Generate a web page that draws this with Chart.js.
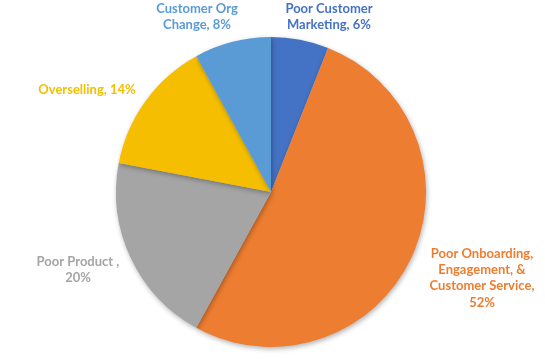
<!DOCTYPE html>
<html>
<head>
<meta charset="utf-8">
<script src="https://cdn.jsdelivr.net/npm/chart.js@4/dist/chart.umd.min.js"></script>
<style>
  html, body { margin: 0; padding: 0; background: #fff; }
  #wrap { width: 545px; height: 364px; }
</style>
</head>
<body>
<div id="wrap"><canvas id="piechart"></canvas></div>
<script>
const categories = [
  "Poor Customer Marketing",
  "Poor Onboarding, Engagement, & Customer Service",
  "Poor Product",
  "Overselling",
  "Customer Org Change",
];
const percentages = [6, 52, 20, 14, 8];
const labelLines = [
  ["Poor Customer", "Marketing, 6%"],
  ["Poor Onboarding,", "Engagement, &", "Customer Service,", "52%"],
  ["Poor Product ,", "20%"],
  ["Overselling, 14%"],
  ["Customer Org", "Change, 8%"],
];
const sliceColors = ["#4472C4", "#ED7D31", "#A5A5A5", "#F5BE00", "#5B9BD5"];

// where each label block sits, relative to pie centre
const labelOffsets = [[58, -175], [211, 86], [-193, 78], [-184, -102], [-74, -175]];

const shadowPlugin = {
  id: "shadow",
  beforeDatasetsDraw(chart) {
    const c = chart.ctx;
    c.save();
    c.shadowColor = "rgba(0,0,0,0.3)";
    c.shadowBlur = 5;
    c.shadowOffsetX = 1;
    c.shadowOffsetY = 2;
  },
  afterDatasetsDraw(chart) {
    chart.ctx.restore();
  },
};

const labelPlugin = {
  id: "outLabels",
  afterDraw(chart) {
    const c = chart.ctx;
    const arc = chart.getDatasetMeta(0).data[0];
    const cx = arc.x, cy = arc.y;
    c.save();
    c.font = "bold 13px Lato, 'Liberation Sans', sans-serif";
    c.textAlign = "center";
    c.textBaseline = "middle";
    labelLines.forEach((lines, i) => {
      c.fillStyle = sliceColors[i];
      const lh = 16.3;
      const x = cx + labelOffsets[i][0];
      const y0 = cy + labelOffsets[i][1] - (lines.length - 1) * lh / 2;
      lines.forEach((t, j) => c.fillText(t, x, y0 + j * lh));
    });
    c.restore();
  },
};

const ctx = document.getElementById("piechart").getContext("2d");
const pieChart = new Chart(ctx, {
  type: "pie",
  data: {
    labels: categories,
    datasets: [
      {
        data: percentages,
        backgroundColor: sliceColors,
        borderWidth: 0,
      },
    ],
  },
  options: {
    responsive: true,
    maintainAspectRatio: false,
    animation: false,
    layout: { padding: { top: 37, bottom: 17, left: 0, right: 3 } },
    plugins: {
      legend: { display: false },
      tooltip: { enabled: false },
    },
  },
  plugins: [shadowPlugin, labelPlugin],
});
</script>
</body>
</html>
